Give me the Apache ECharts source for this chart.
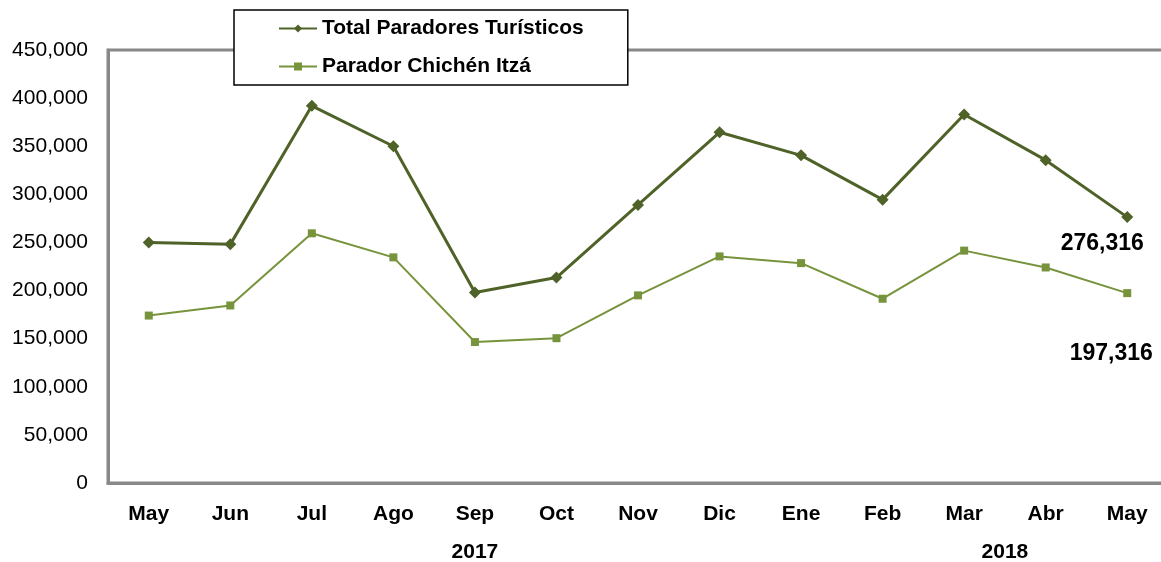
<!DOCTYPE html>
<html>
<head>
<meta charset="utf-8">
<script src="https://cdn.jsdelivr.net/npm/echarts@6/dist/echarts.min.js"></script>
<style>
html,body{margin:0;padding:0;background:#fff;}
#c{width:1161px;height:562px;}
</style>
</head>
<body>
<div id="c"></div>
<script>
var months = ['May','Jun','Jul','Ago','Sep','Oct','Nov','Dic','Ene','Feb','Mar','Abr','May'];
var totalParadores = [250000, 248000, 392000, 350000, 198000, 213500, 289000, 364500, 340500, 294500, 383000, 335500, 276316];
var chichenItza = [174000, 184500, 259500, 234500, 146500, 150500, 195000, 235500, 228500, 191500, 241500, 224000, 197316];
var yearLabels = [{text:'2017', from:4, to:4}, {text:'2018', from:10, to:11}];
var seriesNames = ['Total Paradores Turísticos', 'Parador Chichén Itzá'];

var FONT = 'Liberation Sans, Arial, sans-serif';
var fmt = function(v){ return Number(v).toLocaleString('en-US'); };

function lastLabel(arr, offset){
  return arr.map(function(v, i){
    if (i === arr.length - 1) {
      return {value: v, label: {show: true, position: 'inside', offset: offset,
        formatter: function(p){ return fmt(p.value); },
        fontFamily: FONT, fontWeight: 'bold', fontSize: 23, color: '#000'}};
    }
    return v;
  });
}

var chart = echarts.init(document.getElementById('c'), null, {renderer: 'canvas'});
var option = {
  animation: false,
  backgroundColor: '#fff',
  grid: {left: 108, top: 50, width: 1060, height: 433, show: true, outerBoundsMode: 'none',
         containLabel: false,
         borderColor: '#888888', borderWidth: 3, backgroundColor: 'transparent'},
  legend: {
    data: seriesNames,
    orient: 'vertical', left: 234, top: 10,
    backgroundColor: '#fff', borderColor: '#000', borderWidth: 1.5, borderRadius: 0,
    padding: [8, 44, 8, 44],
    itemWidth: 38, itemHeight: 10, itemGap: 17,
    textStyle: {fontFamily: FONT, fontWeight: 'bold', fontSize: 21, color: '#000', lineHeight: 21}
  },
  xAxis: {
    type: 'category', data: months, boundaryGap: true,
    axisLine: {show: true, lineStyle: {color: '#888888', width: 3}},
    axisTick: {show: false},
    axisLabel: {fontFamily: FONT, fontWeight: 'bold', fontSize: 21, color: '#000', margin: 21, interval: 0},
    splitLine: {show: false}
  },
  yAxis: {
    type: 'value', min: 0, max: 450000, interval: 50000,
    axisLine: {show: true, lineStyle: {color: '#888888', width: 3}},
    axisTick: {show: false},
    axisLabel: {fontFamily: FONT, fontSize: 21, color: '#000', margin: 20, formatter: fmt},
    splitLine: {show: false}
  },
  series: [
    {name: seriesNames[0], type: 'line', data: lastLabel(totalParadores, [-25, 27]),
     symbol: 'diamond', symbolSize: 12,
     lineStyle: {color: '#4F6228', width: 3}, itemStyle: {color: '#4F6228'}},
    {name: seriesNames[1], type: 'line', data: lastLabel(chichenItza, [-16, 61]),
     symbol: 'rect', symbolSize: 8,
     lineStyle: {color: '#77933C', width: 2}, itemStyle: {color: '#77933C'}}
  ]
};
chart.setOption(option);

var graphics = yearLabels.map(function(y){
  var x1 = chart.convertToPixel({xAxisIndex: 0}, y.from);
  var x2 = chart.convertToPixel({xAxisIndex: 0}, y.to);
  return {type: 'text', x: (x1 + x2) / 2, y: 552,
    style: {text: y.text, fontFamily: FONT, fontWeight: 'bold', fontSize: 21, fill: '#000',
            align: 'center', verticalAlign: 'middle'}};
});
chart.setOption({graphic: graphics});
</script>
</body>
</html>
